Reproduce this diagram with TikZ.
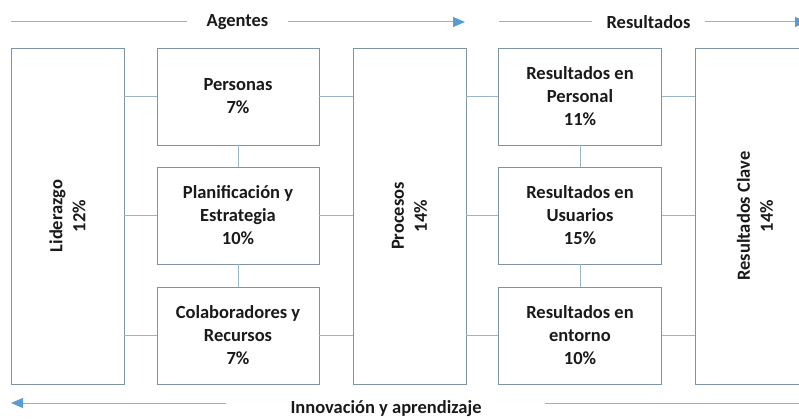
\documentclass[tikz,border=0pt]{standalone}
\usepackage{fontspec}
\setmainfont{Carlito}
\usetikzlibrary{arrows.meta}
\definecolor{boxc}{HTML}{7F93A6}
\definecolor{conc}{HTML}{9BB4C8}
\definecolor{arrl}{HTML}{8DB4DE}
\definecolor{arrh}{HTML}{5B9BD5}
\definecolor{txt}{HTML}{1A1A1A}
\begin{document}
\begin{tikzpicture}[x=1pt,y=-1pt,
  box/.style={draw=boxc,line width=0.9pt,fill=white,inner sep=0pt,align=center,
    font=\fontsize{18.5}{23}\selectfont\bfseries,text=txt},
  rtxt/.style={inner sep=0pt,align=center,rotate=90,
    font=\fontsize{18.5}{23}\selectfont\bfseries,text=txt},
  con/.style={draw=conc,line width=0.9pt},
  arl/.style={draw=arrl,line width=1pt},
  arh/.style={draw=arrl,line width=1pt,-{Triangle[length=12pt,width=10pt,color=arrh]}},
  lbl/.style={font=\fontsize{18.5}{20}\selectfont\bfseries,text=txt,inner sep=0pt}]
\useasboundingbox (0,0) rectangle (799,419);
% tall boxes
\node[box,minimum width=113pt,minimum height=336pt] (lid) at (67.5,216) {};
\node[rtxt] (lidt) at (lid.center) {Liderazgo\\12\%};
\node[box,minimum width=113pt,minimum height=336pt] (pro) at (409.5,216) {};
\node[rtxt] (prot) at (pro.center) {Procesos\\14\%};
\node[box,minimum width=120pt,minimum height=336pt] (cla) at (755,216) {};
\node[rtxt] (clat) at (cla.center) {Resultados Clave\\14\%};
% middle boxes
\node[box,minimum width=162pt,minimum height=97pt] (per) at (238,96.5) {Personas\\7\%};
\node[box,minimum width=162pt,minimum height=97pt] (pla) at (238,215.5) {Planificación y\\Estrategia\\10\%};
\node[box,minimum width=162pt,minimum height=97pt] (col) at (238,335.5) {Colaboradores y\\Recursos\\7\%};
\node[box,minimum width=163pt,minimum height=97pt] (rpe) at (580,96.5) {Resultados en\\Personal\\11\%};
\node[box,minimum width=163pt,minimum height=97pt] (rus) at (580,215.5) {Resultados en\\Usuarios\\15\%};
\node[box,minimum width=163pt,minimum height=97pt] (ren) at (580,335.5) {Resultados en\\entorno\\10\%};
% connectors
\foreach \b in {per,pla,col}{
  \draw[con] (lid.east |- \b.west) -- (\b.west);
  \draw[con] (\b.east) -- (pro.west |- \b.east);
}
\foreach \b in {rpe,rus,ren}{
  \draw[con] (pro.east |- \b.west) -- (\b.west);
  \draw[con] (\b.east) -- (cla.west |- \b.east);
}
\draw[con] (per.south) -- (pla.north);
\draw[con] (pla.south) -- (col.north);
\draw[con] (rpe.south) -- (rus.north);
\draw[con] (rus.south) -- (ren.north);
% top arrows
\node[lbl] (age) at (237.5,22) {Agentes};
\coordinate (a1) at (11,22);
\coordinate (a2) at (187,22);
\coordinate (a3) at (288,22);
\coordinate (a4) at (465,22);
\draw[arl] (a1) -- (a2);
\draw[arh] (a3) -- (a4);
\node[lbl] (res) at (648.5,22) {Resultados};
\coordinate (r1) at (499,22);
\coordinate (r2) at (592,22);
\coordinate (r3) at (705,22);
\coordinate (r4) at (807,22);
\draw[arl] (r1) -- (r2);
\draw[arh] (r3) -- (r4);
% bottom arrow
\node[lbl] (inn) at (386,409) {Innovación y aprendizaje};
\coordinate (i1) at (226,403);
\coordinate (i2) at (11,403);
\coordinate (i3) at (545,403);
\coordinate (i4) at (805,403);
\draw[arh] (i1) -- (i2);
\draw[arl] (i3) -- (i4);
\end{tikzpicture}
\end{document}
